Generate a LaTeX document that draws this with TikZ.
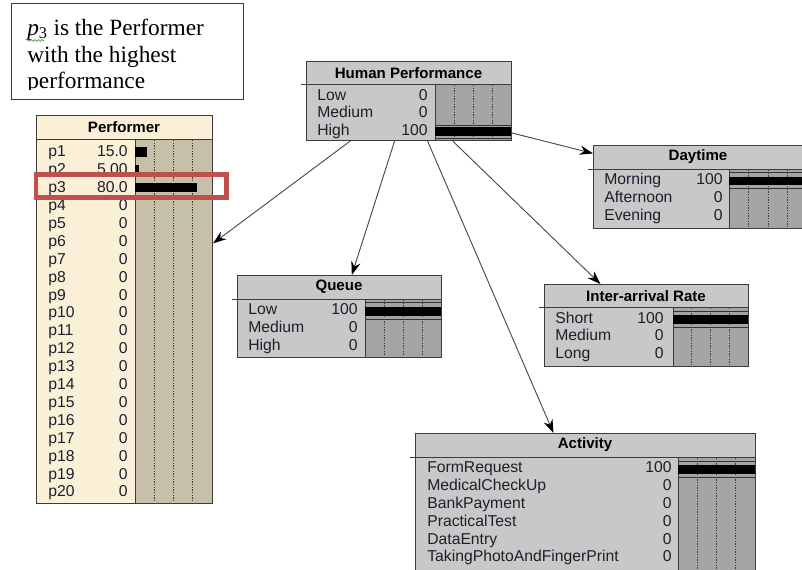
\documentclass[tikz,border=0pt]{standalone}
\usepackage{fontspec}
\setmainfont{Liberation Serif}
\setsansfont{Liberation Sans}
\usetikzlibrary{
  arrows.meta,
  calc,
  decorations.pathmorphing,
}
\definecolor{ink}{HTML}{1E1E2C}
\definecolor{edge}{HTML}{3C3C3C}
\definecolor{wire}{HTML}{4A4A4A}
\definecolor{boxgray}{HTML}{C8C8C8}
\definecolor{bargray}{HTML}{A4A4A4}
\definecolor{cream}{HTML}{FAF0D8}
\definecolor{taupe}{HTML}{C8BFA9}
\definecolor{callout}{HTML}{C0504D}
\definecolor{squiggle}{HTML}{4CA64C}
\tikzset{
  >={Stealth[length=10pt,width=7pt,black]},
  every node/.append style={text=ink},
  monitor/.style={draw=edge, fill=#1, line width=0.75pt, anchor=north west, inner sep=0pt},
  notebox/.style={draw=edge, fill=white, line width=0.75pt, anchor=north west, inner sep=0pt},
  notetext/.style={font=\fontsize{17.5}{20}\selectfont, anchor=base west, inner sep=0pt, text=black},
  ttl/.style={font=\sffamily\bfseries\fontsize{11.3}{13}\selectfont, inner sep=0pt, text=black},
  state/.style={font=\sffamily\fontsize{11.8}{13}\selectfont, anchor=west, inner sep=0pt, text height=8.5pt, text depth=2pt},
  prob/.style={font=\sffamily\fontsize{11.8}{13}\selectfont, anchor=east, inner sep=0pt, text height=8.5pt, text depth=2pt},
  quarter/.style={draw=black!75, line width=0.45pt, dash pattern=on 1pt off 1pt},
  thinrule/.style={draw=black!80, line width=0.45pt},
  link/.style={draw=wire, line width=0.7pt, ->},
}

\begin{document}
\begin{tikzpicture}[x=0.75pt, y=-0.75pt]
  \useasboundingbox (0,0) rectangle (802,569);
  \clip (0,0) rectangle (802,569);
  \fill[white] (0,0) rectangle (802,569);

  % note box
  \node[notebox, minimum width={232*0.75pt}, minimum height={96*0.75pt}] (note) at (11,3) {};
  \begin{scope}
    \clip (11,3) rectangle (243,89);
    \node[notetext] (note1) at (27,35) {\textit{p}\textsubscript{3} is the Performer};
    \node[notetext] (note2) at (27,62) {with the highest};
    \node[notetext] (note3) at (27,88) {performance};
  \end{scope}
  \draw[squiggle, line width=0.5pt, decorate, decoration={snake, amplitude=0.7pt, segment length=2.6pt}] (27,40.5) -- (44,40.5);

  % performer
  \node[monitor=cream, minimum width={176*0.75pt}, minimum height={388*0.75pt}] (perf) at (36,115) {};
  \fill[taupe] (135,139) rectangle (212,503);
  \draw[edge, line width=0.75pt] (36,139) -- (212,139) (135,139) -- (135,503) (36,115) rectangle (212,503);
  \node[ttl] (perf-t) at (124,127) {Performer};
  \foreach \f in {0.25,0.5,0.75}
    \draw[quarter] ({135+77*\f},140) -- ({135+77*\f},502);
  \foreach \i/\v in {1/15.0, 2/5.00, 3/80.0, 4/0, 5/0, 6/0, 7/0, 8/0, 9/0, 10/0,
                     11/0, 12/0, 13/0, 14/0, 15/0, 16/0, 17/0, 18/0, 19/0, 20/0} {
    \node[state] (perf-p\i) at (48,{152.5+(\i-1)*17.9}) {p\i};
    \node[prob] (perf-v\i) at (128,{152.5+(\i-1)*17.9}) {\v};
  }
  \foreach \i/\w in {1/15, 2/5, 3/80}
    \fill[black] (135,{152+(\i-1)*17.9-4.6}) rectangle ({135+0.77*\w},{152+(\i-1)*17.9+4.6});

  % human performance
  \node[monitor=boxgray, minimum width={205*0.75pt}, minimum height={79*0.75pt}] (hp) at (306,61) {};
  \fill[bargray] (435,84) rectangle (511,140);
  \draw[edge, line width=0.75pt] (301,84) -- (511,84) (435,84) -- (435,140);
  \node[ttl] (hp-t) at (408.5,73) {Human Performance};
  \foreach \f in {0.25,0.5,0.75}
    \draw[quarter] ({435+76*\f},85) -- ({435+76*\f},139);
  \foreach \s/\v/\y in {Low/0/96.5, Medium/0/113.5, High/100/131.5} {
    \node[state] (hp-\s) at (317,\y) {\s};
    \node[prob] (hp-v\s) at (428,\y) {\v};
  }
  \fill[black] (435,127) rectangle (511,136);
  \draw[thinrule] (435,125) -- (511,125) (435,138.5) -- (511,138.5);

  % daytime
  \node[monitor=boxgray, minimum width={214*0.75pt}, minimum height={83*0.75pt}] (day) at (593,145) {};
  \fill[bargray] (729,169) rectangle (807,228);
  \draw[edge, line width=0.75pt] (588,169) -- (807,169) (729,169) -- (729,228);
  \node[ttl] (day-t) at (698,157) {Daytime};
  \foreach \f in {0.25,0.5,0.75}
    \draw[quarter] ({729+78*\f},170) -- ({729+78*\f},227);
  \foreach \s/\v/\y in {Morning/100/180.5, Afternoon/0/198.5, Evening/0/216.5} {
    \node[state] (day-\s) at (604,\y) {\s};
    \node[prob] (day-v\s) at (723,\y) {\v};
  }
  \fill[black] (729,177) rectangle (807,185);
  \draw[thinrule] (729,172.5) -- (807,172.5) (729,188) -- (807,188);

  % queue
  \node[monitor=boxgray, minimum width={204*0.75pt}, minimum height={82*0.75pt}] (queue) at (237,275) {};
  \fill[bargray] (365,299) rectangle (441,357);
  \draw[edge, line width=0.75pt] (232,299) -- (441,299) (365,299) -- (365,357);
  \node[ttl] (queue-t) at (339,287) {Queue};
  \foreach \f in {0.25,0.5,0.75}
    \draw[quarter] ({365+76*\f},300) -- ({365+76*\f},356);
  \foreach \s/\v/\y in {Low/100/310.5, Medium/0/328.5, High/0/346.5} {
    \node[state] (queue-\s) at (248,\y) {\s};
    \node[prob] (queue-v\s) at (358,\y) {\v};
  }
  \fill[black] (365,307) rectangle (441,316);
  \draw[thinrule] (365,302.5) -- (441,302.5) (365,319) -- (441,319);

  % inter-arrival rate
  \node[monitor=boxgray, minimum width={204*0.75pt}, minimum height={82*0.75pt}] (rate) at (544,284) {};
  \fill[bargray] (673,307) rectangle (748,366);
  \draw[edge, line width=0.75pt] (539,307) -- (748,307) (673,307) -- (673,366);
  \node[ttl] (rate-t) at (646,296) {Inter-arrival Rate};
  \foreach \f in {0.25,0.5,0.75}
    \draw[quarter] ({673+75*\f},308) -- ({673+75*\f},365);
  \foreach \s/\v/\y in {Short/100/319, Medium/0/336.5, Long/0/354} {
    \node[state] (rate-\s) at (555,\y) {\s};
    \node[prob] (rate-v\s) at (664,\y) {\v};
  }
  \fill[black] (673,315) rectangle (748,324);
  \draw[thinrule] (673,311) -- (748,311) (673,327) -- (748,327);

  % activity
  \node[monitor=boxgray, minimum width={340*0.75pt}, minimum height={145*0.75pt}] (act) at (415,433) {};
  \fill[bargray] (678,457) rectangle (755,578);
  \draw[edge, line width=0.75pt] (410,457) -- (755,457) (678,457) -- (678,578);
  \node[ttl] (act-t) at (585,445) {Activity};
  \foreach \f in {0.25,0.5,0.75}
    \draw[quarter] ({678+77*\f},458) -- ({678+77*\f},578);
  \foreach \s/\v/\y in {FormRequest/100/468.5, MedicalCheckUp/0/486.5, BankPayment/0/504.5,
                        PracticalTest/0/522.5, DataEntry/0/540.5, TakingPhotoAndFingerPrint/0/557.5} {
    \node[state] (act-\s) at (427,\y) {\s};
    \node[prob] (act-v\s) at (672,\y) {\v};
  }
  \fill[black] (678,465) rectangle (755,474);
  \draw[thinrule] (678,461) -- (755,461) (678,477) -- (755,477);

  % links
  \draw[link] ($(hp.south west)!0.215!(hp.south east)$) -- ($(perf.north east)!0.33!(perf.south east)$);
  \draw[link] ($(hp.south west)!0.43!(hp.south east)$) -- ($(queue.north west)!0.56!(queue.north east)$);
  \draw[link] ($(hp.south west)!0.59!(hp.south east)$) -- ($(act.north west)!0.406!(act.north east)$);
  \draw[link] ($(hp.south west)!0.712!(hp.south east)$) -- ($(rate.north west)!0.275!(rate.north east)$);
  \draw[link] ($(hp.north east)!0.9!(hp.south east)$) -- ($(day.north west)!0.1!(day.south west)$);

  % highlight on p3
  \draw[callout, line width=3.4pt] (36,174.5) rectangle (226.5,197.5);
\end{tikzpicture}
\end{document}
